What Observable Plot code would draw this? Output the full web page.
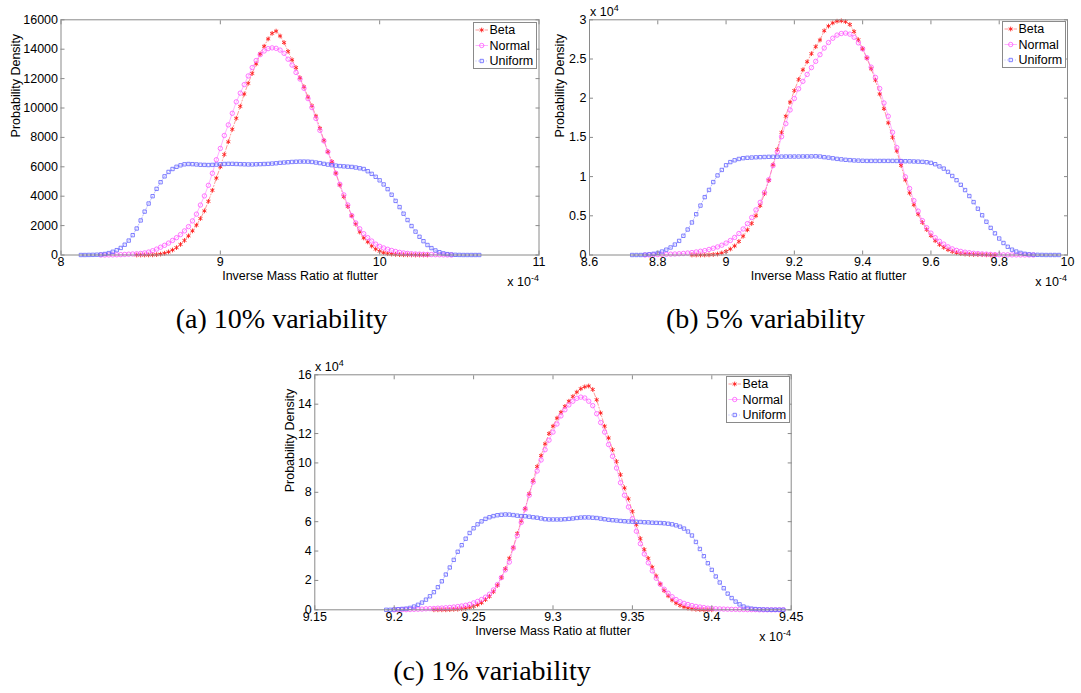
<!DOCTYPE html>
<html><head><meta charset="utf-8">
<script src="https://cdn.jsdelivr.net/npm/d3@7"></script>
<script src="https://cdn.jsdelivr.net/npm/@observablehq/plot@0.6"></script>
<style>
html,body{margin:0;padding:0;background:#fff;}
#fig{position:relative;width:1081px;height:693px;overflow:hidden;background:#fff;font-family:'Liberation Sans',Arial,sans-serif;color:#000;}
.panel{position:absolute;}
.exp{position:absolute;font-size:12.5px;line-height:13px;white-space:nowrap;}
.exp sup{font-size:9px;vertical-align:5px;line-height:0;}
.cap{position:absolute;text-align:center;font-family:'Liberation Serif','Times New Roman',serif;font-size:28px;line-height:30px;white-space:nowrap;}
</style></head><body><div id="fig"></div><script>
// ---------- data ----------
const seriesNames = ["Beta", "Normal", "Uniform"];
const xLabel = "Inverse Mass Ratio at flutter";
const yLabel = "Probability Density";
const captions = ["(a) 10% variability", "(b) 5% variability", "(c) 1% variability"];

// (a) 10% variability — y in raw units
const xTicksA = [8, 9, 10, 11];
const yTicksA = [0, 2000, 4000, 6000, 8000, 10000, 12000, 14000, 16000];
const betaA = [[8.475,0],[8.5,0],[8.525,0],[8.55,5],[8.575,10],[8.6,25],[8.625,60],[8.65,120],[8.675,210],[8.7,340],[8.725,500],[8.75,720],[8.775,990],[8.8,1300],[8.825,1640],[8.85,2030],[8.875,2480],[8.9,3000],[8.925,3650],[8.95,4400],[8.975,5230],[9,6000],[9.025,6840],[9.05,7700],[9.075,8550],[9.1,9300],[9.125,10110],[9.15,10950],[9.175,11680],[9.2,12350],[9.225,13000],[9.25,13680],[9.275,14200],[9.3,14700],[9.325,15080],[9.35,15230],[9.375,14900],[9.4,14450],[9.425,13850],[9.45,13280],[9.475,12750],[9.5,12050],[9.525,11440],[9.55,10750],[9.575,10150],[9.6,9450],[9.625,8620],[9.65,7800],[9.675,7030],[9.7,6350],[9.725,5570],[9.75,4760],[9.775,3960],[9.8,3300],[9.825,2670],[9.85,2100],[9.875,1560],[9.9,1160],[9.925,890],[9.95,610],[9.975,400],[10,260],[10.025,155],[10.05,95],[10.075,60],[10.1,40],[10.125,25],[10.15,15],[10.175,10],[10.2,5],[10.225,0],[10.25,0],[10.275,0],[10.3,0]];
const normalA = [[8.25,0],[8.275,0],[8.3,5],[8.325,10],[8.35,15],[8.375,25],[8.4,40],[8.425,55],[8.45,70],[8.475,85],[8.5,105],[8.525,140],[8.55,200],[8.575,290],[8.6,400],[8.625,530],[8.65,660],[8.675,810],[8.7,990],[8.725,1180],[8.75,1390],[8.775,1640],[8.8,1930],[8.825,2320],[8.85,2780],[8.875,3400],[8.9,4020],[8.925,4740],[8.95,5560],[8.975,6480],[9,7250],[9.025,8130],[9.05,8850],[9.075,9640],[9.1,10420],[9.125,11010],[9.15,11590],[9.175,12180],[9.2,12750],[9.225,13230],[9.25,13630],[9.275,13880],[9.3,14040],[9.325,14090],[9.35,14060],[9.375,13940],[9.4,13720],[9.425,13320],[9.45,12920],[9.475,12420],[9.5,11970],[9.525,11340],[9.55,10640],[9.575,10030],[9.6,9290],[9.625,8480],[9.65,7760],[9.675,7020],[9.7,6280],[9.725,5550],[9.75,4810],[9.775,4090],[9.8,3400],[9.825,2680],[9.85,2180],[9.875,1780],[9.9,1450],[9.925,1180],[9.95,950],[9.975,740],[10,590],[10.025,480],[10.05,390],[10.075,310],[10.1,240],[10.125,180],[10.15,140],[10.175,110],[10.2,85],[10.225,70],[10.25,60],[10.275,50],[10.3,40],[10.325,30],[10.35,20],[10.375,15],[10.4,10],[10.425,5],[10.45,0]];
const uniformA = [[8.125,0],[8.15,0],[8.175,5],[8.2,10],[8.225,20],[8.25,35],[8.275,70],[8.3,130],[8.325,220],[8.35,330],[8.375,480],[8.4,700],[8.425,980],[8.45,1350],[8.475,1800],[8.5,2350],[8.525,2950],[8.55,3500],[8.575,4000],[8.6,4500],[8.625,4950],[8.65,5350],[8.675,5650],[8.7,5850],[8.725,6000],[8.75,6100],[8.775,6170],[8.8,6190],[8.825,6180],[8.85,6160],[8.875,6140],[8.9,6130],[8.925,6120],[8.95,6130],[8.975,6150],[9,6170],[9.025,6190],[9.05,6200],[9.075,6200],[9.1,6190],[9.125,6180],[9.15,6170],[9.175,6160],[9.2,6160],[9.225,6170],[9.25,6180],[9.275,6190],[9.3,6200],[9.325,6220],[9.35,6240],[9.375,6270],[9.4,6290],[9.425,6310],[9.45,6330],[9.475,6345],[9.5,6355],[9.525,6355],[9.55,6350],[9.575,6330],[9.6,6290],[9.625,6250],[9.65,6200],[9.675,6150],[9.7,6110],[9.725,6080],[9.75,6050],[9.775,6030],[9.8,6010],[9.825,5990],[9.85,5950],[9.875,5900],[9.9,5850],[9.925,5700],[9.95,5520],[9.975,5320],[10,5080],[10.025,4800],[10.05,4480],[10.075,4100],[10.1,3680],[10.125,3260],[10.15,2810],[10.175,2380],[10.2,1970],[10.225,1590],[10.25,1240],[10.275,940],[10.3,680],[10.325,470],[10.35,310],[10.375,190],[10.4,110],[10.425,60],[10.45,30],[10.475,12],[10.5,5],[10.525,0],[10.55,0],[10.575,0],[10.6,0],[10.625,0]];

// (b) 5% variability — y in units of 10^4
const xTicksB = [8.6, 8.8, 9, 9.2, 9.4, 9.6, 9.8, 10];
const yTicksB = [0, 0.5, 1, 1.5, 2, 2.5, 3];
const betaB = [[8.9,0],[8.9125,0],[8.925,0],[8.9375,0],[8.95,0.002],[8.9625,0.006],[8.975,0.012],[8.9875,0.026],[9,0.046],[9.0125,0.076],[9.025,0.115],[9.0375,0.172],[9.05,0.24],[9.0625,0.321],[9.075,0.402],[9.0875,0.5],[9.1,0.63],[9.1125,0.782],[9.125,0.95],[9.1375,1.15],[9.15,1.344],[9.1625,1.563],[9.175,1.77],[9.1875,1.95],[9.2,2.097],[9.2125,2.239],[9.225,2.362],[9.2375,2.465],[9.25,2.568],[9.2625,2.657],[9.275,2.742],[9.2875,2.86],[9.3,2.92],[9.3125,2.96],[9.325,2.982],[9.3375,2.987],[9.35,2.976],[9.3625,2.94],[9.375,2.85],[9.3875,2.745],[9.4,2.63],[9.4125,2.51],[9.425,2.375],[9.4375,2.23],[9.45,2.053],[9.4625,1.866],[9.475,1.685],[9.4875,1.499],[9.5,1.327],[9.5125,1.143],[9.525,0.958],[9.5375,0.79],[9.55,0.64],[9.5625,0.52],[9.575,0.415],[9.5875,0.324],[9.6,0.247],[9.6125,0.182],[9.625,0.133],[9.6375,0.097],[9.65,0.067],[9.6625,0.044],[9.675,0.028],[9.6875,0.017],[9.7,0.012],[9.7125,0.0085],[9.725,0.0065],[9.7375,0.005],[9.75,0.004],[9.7625,0.002],[9.775,0.001],[9.7875,0]];
const normalB = [[8.7625,0],[8.775,0.001],[8.7875,0.004],[8.8,0.0055],[8.8125,0.0075],[8.825,0.0095],[8.8375,0.011],[8.85,0.013],[8.8625,0.016],[8.875,0.02],[8.8875,0.025],[8.9,0.031],[8.9125,0.039],[8.925,0.048],[8.9375,0.056],[8.95,0.071],[8.9625,0.086],[8.975,0.103],[8.9875,0.125],[9,0.152],[9.0125,0.185],[9.025,0.224],[9.0375,0.274],[9.05,0.332],[9.0625,0.4],[9.075,0.478],[9.0875,0.575],[9.1,0.672],[9.1125,0.798],[9.125,0.96],[9.1375,1.14],[9.15,1.317],[9.1625,1.509],[9.175,1.675],[9.1875,1.85],[9.2,1.996],[9.2125,2.12],[9.225,2.215],[9.2375,2.303],[9.25,2.39],[9.2625,2.47],[9.275,2.555],[9.2875,2.64],[9.3,2.71],[9.3125,2.765],[9.325,2.805],[9.3375,2.825],[9.35,2.83],[9.3625,2.817],[9.375,2.777],[9.3875,2.706],[9.4,2.63],[9.4125,2.517],[9.425,2.396],[9.4375,2.265],[9.45,2.123],[9.4625,1.939],[9.475,1.77],[9.4875,1.565],[9.5,1.37],[9.5125,1.192],[9.525,0.997],[9.5375,0.848],[9.55,0.694],[9.5625,0.56],[9.575,0.438],[9.5875,0.348],[9.6,0.279],[9.6125,0.221],[9.625,0.175],[9.6375,0.139],[9.65,0.104],[9.6625,0.078],[9.675,0.059],[9.6875,0.046],[9.7,0.036],[9.7125,0.029],[9.725,0.022],[9.7375,0.018],[9.75,0.014],[9.7625,0.011],[9.775,0.008],[9.7875,0.005],[9.8,0.0035],[9.8125,0.0025],[9.825,0.002],[9.8375,0.0015],[9.85,0.001],[9.8625,0.0005],[9.875,0.0005],[9.8875,0],[9.9,0]];
const uniformB = [[8.725,0],[8.7375,0],[8.75,0],[8.7625,0.004],[8.775,0.0085],[8.7875,0.015],[8.8,0.026],[8.8125,0.044],[8.825,0.068],[8.8375,0.096],[8.85,0.133],[8.8625,0.18],[8.875,0.245],[8.8875,0.325],[8.9,0.415],[8.9125,0.52],[8.925,0.63],[8.9375,0.738],[8.95,0.83],[8.9625,0.93],[8.975,1.015],[8.9875,1.085],[9,1.145],[9.0125,1.185],[9.025,1.208],[9.0375,1.225],[9.05,1.235],[9.0625,1.24],[9.075,1.243],[9.0875,1.246],[9.1,1.248],[9.1125,1.25],[9.125,1.252],[9.1375,1.253],[9.15,1.254],[9.1625,1.255],[9.175,1.256],[9.1875,1.256],[9.2,1.256],[9.2125,1.256],[9.225,1.257],[9.2375,1.257],[9.25,1.258],[9.2625,1.259],[9.275,1.256],[9.2875,1.248],[9.3,1.242],[9.3125,1.234],[9.325,1.226],[9.3375,1.22],[9.35,1.214],[9.3625,1.21],[9.375,1.206],[9.3875,1.204],[9.4,1.202],[9.4125,1.2],[9.425,1.2],[9.4375,1.2],[9.45,1.2],[9.4625,1.2],[9.475,1.2],[9.4875,1.2],[9.5,1.199],[9.5125,1.198],[9.525,1.196],[9.5375,1.195],[9.55,1.193],[9.5625,1.191],[9.575,1.188],[9.5875,1.183],[9.6,1.175],[9.6125,1.158],[9.625,1.13],[9.6375,1.102],[9.65,1.06],[9.6625,1.008],[9.675,0.954],[9.6875,0.895],[9.7,0.828],[9.7125,0.752],[9.725,0.675],[9.7375,0.59],[9.75,0.507],[9.7625,0.424],[9.775,0.346],[9.7875,0.276],[9.8,0.21],[9.8125,0.153],[9.825,0.105],[9.8375,0.068],[9.85,0.044],[9.8625,0.027],[9.875,0.015],[9.8875,0.008],[9.9,0.004],[9.9125,0.002],[9.925,0.001],[9.9375,0],[9.95,0],[9.9625,0],[9.975,0]];

// (c) 1% variability — y in units of 10^4
const xTicksC = [9.15, 9.2, 9.25, 9.3, 9.35, 9.4, 9.45];
const yTicksC = [0, 2, 4, 6, 8, 10, 12, 14, 16];
const betaC = [[9.225,0],[9.2275,0],[9.23,0],[9.2325,0],[9.235,0.01],[9.2375,0.03],[9.24,0.04],[9.2425,0.07],[9.245,0.1],[9.2475,0.16],[9.25,0.23],[9.2525,0.34],[9.255,0.48],[9.2575,0.69],[9.26,0.91],[9.2625,1.23],[9.265,1.66],[9.2675,2.2],[9.27,2.8],[9.2725,3.51],[9.275,4.25],[9.2775,5.2],[9.28,6.05],[9.2825,6.9],[9.285,7.9],[9.2875,8.8],[9.29,9.75],[9.2925,10.5],[9.295,11.3],[9.2975,12],[9.3,12.5],[9.3025,13.05],[9.305,13.45],[9.3075,13.85],[9.31,14.2],[9.3125,14.52],[9.315,14.82],[9.3175,15.05],[9.32,15.18],[9.3225,15.24],[9.325,15],[9.3275,14.3],[9.33,13.4],[9.3325,12.5],[9.335,11.7],[9.3375,10.9],[9.34,10.1],[9.3425,9.2],[9.345,8.3],[9.3475,7.55],[9.35,6.7],[9.3525,5.8],[9.355,4.85],[9.3575,4.1],[9.36,3.5],[9.3625,2.9],[9.365,2.3],[9.3675,1.75],[9.37,1.3],[9.3725,0.95],[9.375,0.66],[9.3775,0.45],[9.38,0.3],[9.3825,0.19],[9.385,0.11],[9.3875,0.06],[9.39,0.03],[9.3925,0.01],[9.395,0],[9.3975,0],[9.4,0]];
const normalC = [[9.2,0],[9.2025,0],[9.205,0.01],[9.2075,0.01],[9.21,0.02],[9.2125,0.03],[9.215,0.04],[9.2175,0.05],[9.22,0.07],[9.2225,0.08],[9.225,0.09],[9.2275,0.11],[9.23,0.12],[9.2325,0.14],[9.235,0.16],[9.2375,0.19],[9.24,0.22],[9.2425,0.26],[9.245,0.31],[9.2475,0.37],[9.25,0.47],[9.2525,0.57],[9.255,0.7],[9.2575,0.86],[9.26,1.06],[9.2625,1.35],[9.265,1.72],[9.2675,2.19],[9.27,2.72],[9.2725,3.25],[9.275,4.2],[9.2775,5.05],[9.28,5.95],[9.2825,6.85],[9.285,7.8],[9.2875,8.7],[9.29,9.45],[9.2925,10.2],[9.295,10.9],[9.2975,11.55],[9.3,12.1],[9.3025,12.65],[9.305,13.2],[9.3075,13.62],[9.31,13.95],[9.3125,14.2],[9.315,14.4],[9.3175,14.48],[9.32,14.42],[9.3225,14.2],[9.325,13.9],[9.3275,13.35],[9.33,12.75],[9.3325,12.1],[9.335,11.25],[9.3375,10.45],[9.34,9.65],[9.3425,8.65],[9.345,7.8],[9.3475,7],[9.35,6.2],[9.3525,5.35],[9.355,4.5],[9.3575,3.8],[9.36,3.2],[9.3625,2.65],[9.365,2.15],[9.3675,1.75],[9.37,1.4],[9.3725,1.13],[9.375,0.89],[9.3775,0.7],[9.38,0.55],[9.3825,0.44],[9.385,0.36],[9.3875,0.29],[9.39,0.23],[9.3925,0.19],[9.395,0.15],[9.3975,0.11],[9.4,0.09],[9.4025,0.07],[9.405,0.06],[9.4075,0.05],[9.41,0.04],[9.4125,0.03],[9.415,0.03],[9.4175,0.02],[9.42,0.02],[9.4225,0.01],[9.425,0.01],[9.4275,0.01],[9.43,0],[9.4325,0],[9.435,0],[9.4375,0],[9.44,0],[9.4425,0],[9.445,0]];
const uniformC = [[9.195,0],[9.1975,0],[9.2,0.02],[9.2025,0.04],[9.205,0.06],[9.2075,0.08],[9.21,0.13],[9.2125,0.22],[9.215,0.34],[9.2175,0.49],[9.22,0.69],[9.2225,0.92],[9.225,1.2],[9.2275,1.54],[9.23,1.94],[9.2325,2.4],[9.235,2.88],[9.2375,3.4],[9.24,3.95],[9.2425,4.4],[9.245,4.84],[9.2475,5.23],[9.25,5.55],[9.2525,5.82],[9.255,6.02],[9.2575,6.19],[9.26,6.3],[9.2625,6.38],[9.265,6.44],[9.2675,6.47],[9.27,6.49],[9.2725,6.48],[9.275,6.45],[9.2775,6.41],[9.28,6.38],[9.2825,6.37],[9.285,6.34],[9.2875,6.3],[9.29,6.27],[9.2925,6.22],[9.295,6.17],[9.2975,6.15],[9.3,6.15],[9.3025,6.15],[9.305,6.15],[9.3075,6.17],[9.31,6.19],[9.3125,6.22],[9.315,6.25],[9.3175,6.28],[9.32,6.29],[9.3225,6.29],[9.325,6.27],[9.3275,6.25],[9.33,6.21],[9.3325,6.17],[9.335,6.13],[9.3375,6.1],[9.34,6.08],[9.3425,6.05],[9.345,6.03],[9.3475,6.01],[9.35,6],[9.3525,5.99],[9.355,5.98],[9.3575,5.96],[9.36,5.95],[9.3625,5.93],[9.365,5.92],[9.3675,5.91],[9.37,5.89],[9.3725,5.86],[9.375,5.82],[9.3775,5.75],[9.38,5.66],[9.3825,5.53],[9.385,5.33],[9.3875,5.06],[9.39,4.62],[9.3925,4.14],[9.395,3.65],[9.3975,3.17],[9.4,2.72],[9.4025,2.27],[9.405,1.86],[9.4075,1.47],[9.41,1.1],[9.4125,0.8],[9.415,0.56],[9.4175,0.37],[9.42,0.22],[9.4225,0.13],[9.425,0.08],[9.4275,0.05],[9.43,0.03],[9.4325,0.02],[9.435,0.01],[9.4375,0],[9.44,0],[9.4425,0],[9.445,0]];

// ---------- styles ----------
const GRAY = "#8a8a8a";
const styles = [
  {color: "#ff1f1f", dash: "4,2,1,2", symbol: "asterisk", r: 2.2, sw: 0.9},
  {color: "#ff55ff", dash: null, symbol: "circle", r: 2.2, sw: 0.8},
  {color: "#6262ff", dash: "1,1.6", symbol: "square", r: 1.9, sw: 0.8}
];
const FONT = "'Liberation Sans', Arial, sans-serif";

function panel(cfg) {
  const marks = [];
  cfg.series.forEach((data, i) => {
    const s = styles[i];
    marks.push(Plot.line(data, {x: d => d[0], y: d => d[1], stroke: s.color, strokeWidth: 0.6, strokeOpacity: 0.75, strokeDasharray: s.dash}));
    marks.push(Plot.dot(data, {x: d => d[0], y: d => d[1], symbol: s.symbol, r: s.r, stroke: s.color, strokeWidth: s.sw, fill: "none"}));
  });
  marks.push(
    Plot.frame({stroke: GRAY}),
    Plot.axisX(cfg.xTicks, {anchor: "bottom", tickSize: -4, tickFormat: () => "", stroke: GRAY, label: null}),
    Plot.axisX(cfg.xTicks, {anchor: "top", tickSize: -4, tickFormat: () => "", stroke: GRAY, label: null}),
    Plot.axisX(cfg.xTicks, {anchor: "bottom", tickSize: 0, tickPadding: 2, tickFormat: d => String(d), stroke: "none", label: null}),
    Plot.axisY(cfg.yTicks, {anchor: "left", tickSize: -4, tickFormat: () => "", stroke: GRAY, label: null}),
    Plot.axisY(cfg.yTicks, {anchor: "right", tickSize: -4, tickFormat: () => "", stroke: GRAY, label: null}),
    Plot.axisY(cfg.yTicks, {anchor: "left", tickSize: 0, tickPadding: 3, tickFormat: d => String(d), stroke: "none", label: null}),
    Plot.text([xLabel], {frameAnchor: "bottom", lineAnchor: "middle", dy: 21, fontSize: 12.5}),
    Plot.text([yLabel], {frameAnchor: "left", lineAnchor: "middle", dx: cfg.ylabDx, rotate: -90, fontSize: 12.5})
  );
  return Plot.plot({
    width: cfg.width, height: cfg.height,
    marginLeft: cfg.m[0], marginRight: cfg.m[1], marginTop: cfg.m[2], marginBottom: cfg.m[3],
    x: {domain: cfg.xDomain},
    y: {domain: cfg.yDomain},
    style: {fontFamily: FONT, fontSize: "12.5px", background: "transparent", overflow: "visible", color: "#000"},
    marks
  });
}

function legend(left, top) {
  const w = 64, h = 47;
  const svg = d3.create("svg").attr("width", w).attr("height", h)
    .style("position", "absolute").style("left", left + "px").style("top", top + "px").style("overflow", "visible");
  svg.append("rect").attr("x", 0.5).attr("y", 0.5).attr("width", w - 1).attr("height", h - 1).attr("fill", "#fff").attr("stroke", GRAY);
  const symMap = {asterisk: d3.symbolAsterisk, circle: d3.symbolCircle, square: d3.symbolSquare};
  seriesNames.forEach((name, i) => {
    const s = styles[i];
    const yy = 8 + 15.5 * i;
    svg.append("line").attr("x1", 2.5).attr("x2", 15).attr("y1", yy).attr("y2", yy)
      .attr("stroke", s.color).attr("stroke-width", 0.6).attr("stroke-opacity", 0.75).attr("stroke-dasharray", s.dash);
    svg.append("path").attr("transform", `translate(8.7,${yy})`)
      .attr("d", d3.symbol(symMap[s.symbol], Math.PI * s.r * s.r)())
      .attr("fill", "none").attr("stroke", s.color).attr("stroke-width", s.sw);
    svg.append("text").attr("x", 16.5).attr("y", yy).attr("dy", "0.35em")
      .attr("font-family", FONT).attr("font-size", 12.5).attr("fill", "#000").text(name);
  });
  return svg.node();
}

const fig = document.getElementById("fig");
function place(node, left, top) {
  const d = document.createElement("div");
  d.className = "panel"; d.style.left = left + "px"; d.style.top = top + "px";
  d.appendChild(node); fig.appendChild(d);
}
function html(cls, styleStr, content) {
  const d = document.createElement("div");
  d.className = cls; d.setAttribute("style", styleStr); d.innerHTML = content; fig.appendChild(d);
}

place(panel({series: [betaA, normalA, uniformA], xTicks: xTicksA, yTicks: yTicksA, xDomain: [8, 11], yDomain: [0, 16000],
  width: 560, height: 300, m: [60.5, 21.5, 19.3, 45.5], ylabDx: -45}), 0, 0);
place(panel({series: [betaB, normalB, uniformB], xTicks: xTicksB, yTicks: yTicksB, xDomain: [8.6, 10], yDomain: [0, 3],
  width: 541, height: 300, m: [49, 14, 19.3, 45.5], ylabDx: -30}), 540, 0);
place(panel({series: [betaC, normalC, uniformC], xTicks: xTicksC, yTicks: yTicksC, xDomain: [9.15, 9.45], yDomain: [0, 16],
  width: 560, height: 300, m: [54.3, 29.3, 19.3, 45.7], ylabDx: -25}), 260, 355);

fig.appendChild(legend(472.5, 22.3));
fig.appendChild(legend(1001.5, 21));
fig.appendChild(legend(726, 376));

// exponent labels
html("exp", "right:542px;top:276px;", "x 10<sup>-4</sup>");
html("exp", "right:14px;top:276px;", "x 10<sup>-4</sup>");
html("exp", "right:290px;top:631px;", "x 10<sup>-4</sup>");
html("exp", "left:590px;top:6px;", "x 10<sup>4</sup>");
html("exp", "left:315px;top:361px;", "x 10<sup>4</sup>");

// captions
html("cap", "left:0px;width:563px;top:304px;", captions[0]);
html("cap", "left:530px;width:471px;top:304px;", captions[1]);
html("cap", "left:292px;width:400px;top:656px;", captions[2]);
</script></body></html>
